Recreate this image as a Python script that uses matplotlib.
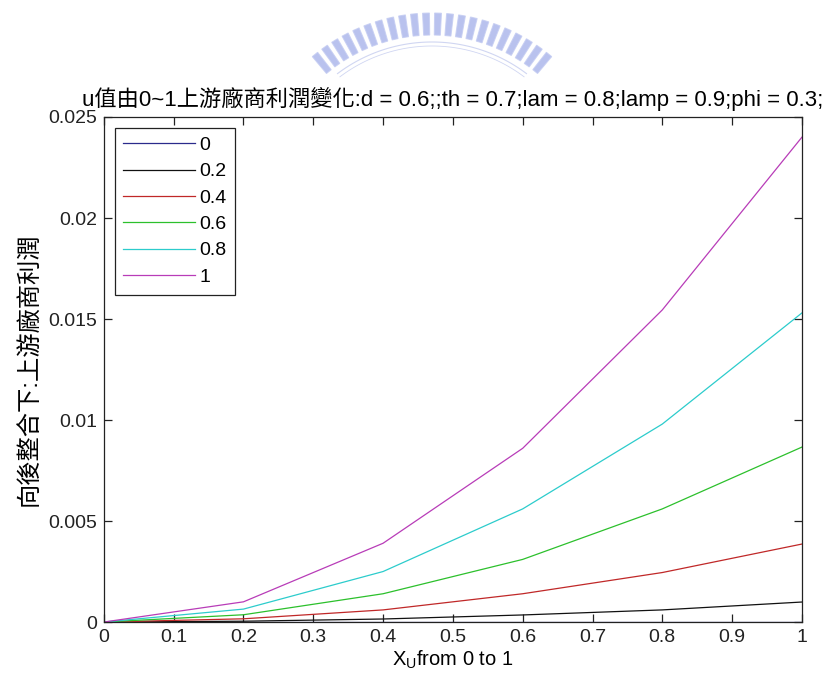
"""
Upstream profit under backward integration, one curve per u value.
"""
import numpy as np
import matplotlib.pyplot as plt
from matplotlib.patches import Polygon
from matplotlib.lines import Line2D

plt.rcParams['font.family'] = ['Liberation Sans', 'Noto Sans CJK TC', 'DejaVu Sans']
plt.rcParams['mathtext.fontset'] = 'custom'
plt.rcParams['mathtext.rm'] = 'Liberation Sans'

# x_U from 0 to 1
x_u = [0.0, 0.2, 0.4, 0.6, 0.8, 1.0]

# upstream profit for each u value
u_labels = ['0', '0.2', '0.4', '0.6', '0.8', '1']
profit_u00 = [0.0, 0.0, 0.0, 0.0, 0.0, 0.0]
profit_u02 = [0.0, 0.00004, 0.00015, 0.00035, 0.0006, 0.00099]
profit_u04 = [0.0, 0.00016, 0.0006, 0.0014, 0.00245, 0.00386]
profit_u06 = [0.0, 0.00036, 0.0014, 0.0031, 0.0056, 0.00866]
profit_u08 = [0.0, 0.00064, 0.0025, 0.0056, 0.0098, 0.0153]
profit_u10 = [0.0, 0.001, 0.0039, 0.0086, 0.01545, 0.024]

x_ticks = [0, 0.1, 0.2, 0.3, 0.4, 0.5, 0.6, 0.7, 0.8, 0.9, 1]
x_tick_labels = ['0', '0.1', '0.2', '0.3', '0.4', '0.5', '0.6', '0.7', '0.8', '0.9', '1']
y_ticks = [0, 0.005, 0.01, 0.015, 0.02, 0.025]
y_tick_labels = ['0', '0.005', '0.01', '0.015', '0.02', '0.025']

title_text = 'u值由0~1上游廠商利潤變化:d = 0.6;;th = 0.7;lam = 0.8;lamp = 0.9;phi = 0.3;'
ylabel_text = '向後整合下:上游廠商利潤'
xlabel_text = 'X$_{\\mathrm{U}}$from 0 to 1'

line_colors = ['#2b2b8c', '#111111', '#c02828', '#2cc02c', '#2ccccc', '#b83cb8']


def draw_badge(fig):
    """
    Faint toothed arc at the top of the page
    """
    cx, cy = 432.0, 199.0          # pixels from top-left
    dpi = fig.dpi
    h_px = fig.get_figheight() * dpi

    def to_in(px, py):
        return (px / dpi, (h_px - py) / dpi)

    angles = np.linspace(-39, 39, 22)
    half_w = 1.05
    for a in angles:
        pts = []
        for r, da in [(164, -half_w), (164, half_w), (186, half_w), (186, -half_w)]:
            t = np.radians(a + da)
            pts.append(to_in(cx + r * np.sin(t), cy - r * np.cos(t)))
        fig.add_artist(Polygon(pts, closed=True, transform=fig.dpi_scale_trans,
                               facecolor='#a8b3ea', edgecolor='#c4ccf2', linewidth=0.8,
                               alpha=0.8))

    t = np.radians(np.linspace(-37, 37, 100))
    for r, lw in [(157, 0.8), (153, 0.6)]:
        xs = [to_in(cx + r * np.sin(v), cy - r * np.cos(v)) for v in t]
        fig.add_artist(Line2D([p[0] for p in xs], [p[1] for p in xs],
                              transform=fig.dpi_scale_trans,
                              color='#d0d6f2', linewidth=lw))


fig = plt.figure(figsize=(8.31, 6.81), dpi=100)
ax = fig.add_axes([0.125, 0.0866, 0.84, 0.7416])

series = [profit_u00, profit_u02, profit_u04, profit_u06, profit_u08, profit_u10]
for idx, y in enumerate(series):
    ax.plot(x_u, y, color=line_colors[idx], linewidth=0.9, label=u_labels[idx])

ax.set_xlim(0, 1)
ax.set_ylim(0, 0.025)
ax.set_xticks(x_ticks)
ax.set_xticklabels(x_tick_labels)
ax.set_yticks(y_ticks)
ax.set_yticklabels(y_tick_labels)

ax.tick_params(direction='in', length=6, width=0.9, top=True, right=True,
               labelsize=14, colors='#222222', pad=5)
for sp in ax.spines.values():
    sp.set_linewidth(0.9)
    sp.set_color('#222222')

ax.set_title(title_text, fontsize=16, pad=8)
ax.set_xlabel(xlabel_text, fontsize=14.5, labelpad=2)
ax.set_ylabel(ylabel_text, fontsize=17.5, labelpad=5)

leg = ax.legend(loc='upper left', fontsize=14, handlelength=3.7, handletextpad=0.2,
                labelspacing=0.45, borderaxespad=0.55, borderpad=0.45,
                fancybox=False, framealpha=1.0)
leg.get_frame().set_edgecolor('#222222')
leg.get_frame().set_linewidth(0.9)

draw_badge(fig)

fig.savefig('out.png', dpi=100)
plt.close(fig)
